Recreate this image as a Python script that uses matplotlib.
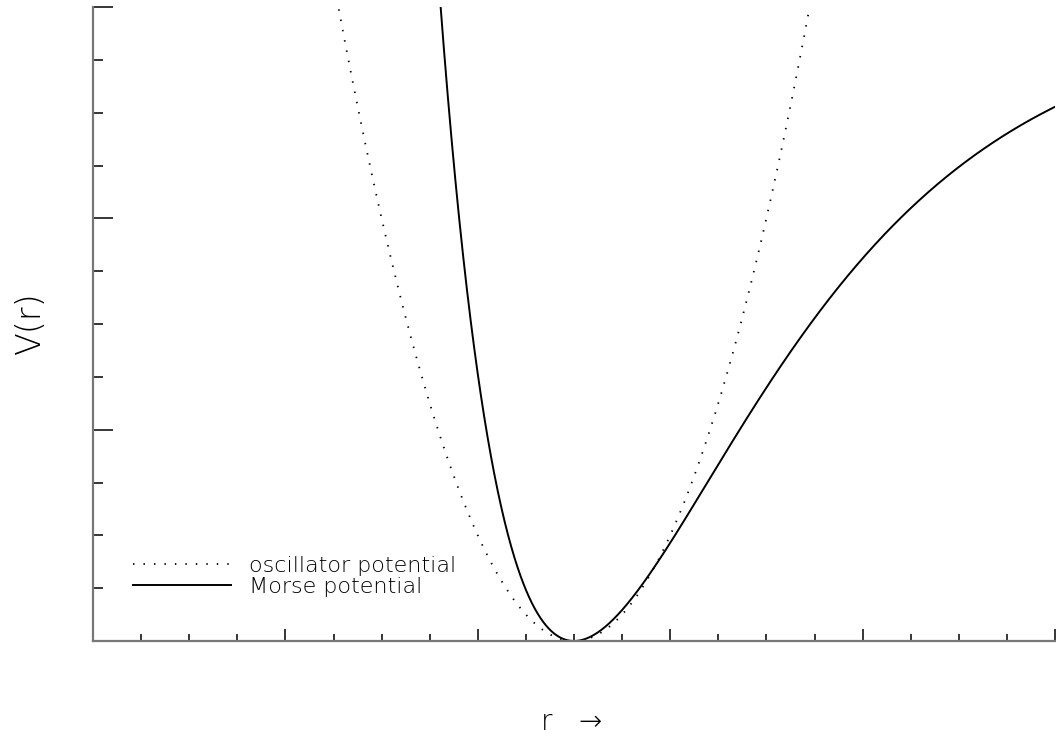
import numpy as np
import matplotlib
matplotlib.use("Agg")
import matplotlib.pyplot as plt
from matplotlib.ticker import MultipleLocator

# Parameters
r_min, r_max = 0.0, 5.0
v_min, v_max = 0.0, 3.0
r_e = 2.5          # equilibrium distance
k_osc = 2.0        # oscillator: V = k (r - r_e)^2
D_morse = 3.0      # Morse depth
a_morse = 1.0      # Morse width parameter
legend_labels = ["oscillator potential", "Morse potential"]

r = np.linspace(r_min, r_max, 2000)
v_osc = k_osc * (r - r_e) ** 2
v_morse = D_morse * (1 - np.exp(-a_morse * (r - r_e))) ** 2

fig = plt.figure(figsize=(10.56, 7.38), dpi=100)
ax = fig.add_axes([93/1056, 97/738, 962/1056, 634/738])

ax.plot(r, v_osc, color="black", lw=1.3, linestyle=(0, (0.8, 5.0)),
        label=legend_labels[0])
ax.plot(r, v_morse, color="black", lw=1.4, label=legend_labels[1])

ax.set_xlim(r_min, r_max)
ax.set_ylim(v_min, v_max)

for s in ["top", "right"]:
    ax.spines[s].set_visible(False)
for s in ["left", "bottom"]:
    ax.spines[s].set_color("#777777")
    ax.spines[s].set_linewidth(1.6)

ax.xaxis.set_major_locator(MultipleLocator(1))
ax.xaxis.set_minor_locator(MultipleLocator(0.25))
ax.yaxis.set_major_locator(MultipleLocator(1))
ax.yaxis.set_minor_locator(MultipleLocator(0.25))
ax.tick_params(axis="x", which="major", direction="in", length=8.6, width=1.1,
               labelbottom=False)
ax.tick_params(axis="x", which="minor", direction="in", length=4.7, width=1.1)
ax.tick_params(axis="y", which="major", direction="in", length=14.4, width=1.1,
               labelleft=False)
ax.tick_params(axis="y", which="minor", direction="in", length=7.2, width=1.1)

for t in ax.xaxis.get_ticklines() + ax.xaxis.get_ticklines(minor=True):
    t.set_clip_on(False)

leg = ax.legend(loc="lower left", bbox_to_anchor=(0.021, 0.038), frameon=False,
                handlelength=4.4, handletextpad=0.8, labelspacing=0.05,
                prop={"size": 16, "weight": "light"})
for txt in leg.get_texts():
    txt.set_color("black")

fig.text(30/1056, 1 - 323/738, "V(r)", rotation=90, ha="center", va="center",
         fontsize=24, fontweight="light", color="black")
fig.text(572/1056, 1 - 722/738, "r   \u2192", ha="center", va="center",
         fontsize=20, fontweight="light", color="black")

fig.savefig("out.png", dpi=100)
